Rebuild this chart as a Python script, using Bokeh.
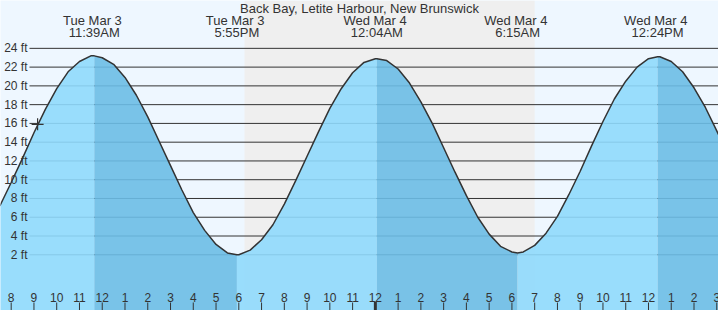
import numpy as np
from bokeh.plotting import figure
from bokeh.models import Range1d, BoxAnnotation, ColumnDataSource
from bokeh.core.properties import value
from bokeh.embed import file_html
from bokeh.resources import INLINE

# ---------------- data (hours after Tue Mar 3, 00:00) ----------------
title_text = "Back Bay, Letite Harbour, New Brunswick"

tide_hours = [7.5, 8.0, 8.5, 9.0, 9.5, 10.0, 10.5, 11.0, 11.5, 11.65,
              12.0, 12.5, 13.0, 13.5, 14.0, 14.5, 15.0, 15.5, 16.0, 16.5, 17.0, 17.5, 17.917,
              18.0, 18.5, 19.0, 19.5, 20.0, 20.5, 21.0, 21.5, 22.0, 22.5, 23.0, 23.5, 24.0, 24.067,
              24.5, 25.0, 25.5, 26.0, 26.5, 27.0, 27.5, 28.0, 28.5, 29.0, 29.5, 30.0, 30.25,
              30.5, 31.0, 31.5, 32.0, 32.5, 33.0, 33.5, 34.0, 34.5, 35.0, 35.5, 36.0, 36.4,
              36.5, 37.0, 37.5, 38.0, 38.5, 39.0, 39.5]
tide_ft = [7.2, 9.7, 12.3, 15.0, 17.5, 19.7, 21.5, 22.6, 23.2, 23.2,
           23.0, 22.3, 20.9, 19.0, 16.7, 14.1, 11.5, 8.9, 6.5, 4.6, 3.1, 2.2, 2.0,
           2.0, 2.5, 3.6, 5.2, 7.4, 9.9, 12.5, 15.1, 17.6, 19.7, 21.4, 22.5, 22.9, 22.9,
           22.7, 21.8, 20.3, 18.3, 16.0, 13.4, 10.8, 8.3, 6.0, 4.2, 2.9, 2.3, 2.2,
           2.3, 3.0, 4.3, 6.1, 8.4, 10.9, 13.6, 16.2, 18.6, 20.5, 22.0, 22.9, 23.1,
           23.1, 22.6, 21.5, 19.8, 17.7, 15.2, 12.6]

extreme_hours = [11.65, 17.917, 24.067, 30.25, 36.4]
extreme_kind = ["high", "low", "high", "low", "high"]
extreme_day = ["Tue Mar  3", "Tue Mar  3", "Wed Mar  4", "Wed Mar  4", "Wed Mar  4"]
extreme_time = ["11:39AM", "5:55PM", "12:04AM", "6:15AM", "12:24PM"]

sunset_hour = 18.25
sunrise_hour = 31.0

now_hour = 9.16
now_ft = 15.9

y_ticks = [2, 4, 6, 8, 10, 12, 14, 16, 18, 20, 22, 24]
y_tick_labels = ["2 ft", "4 ft", "6 ft", "8 ft", "10 ft", "12 ft", "14 ft", "16 ft",
                 "18 ft", "20 ft", "22 ft", "24 ft"]

hour_ticks = list(range(8, 40))
hour_tick_labels = ["8", "9", "10", "11", "12", "1", "2", "3", "4", "5", "6", "7", "8", "9",
                    "10", "11", "12", "1", "2", "3", "4", "5", "6", "7", "8", "9", "10",
                    "11", "12", "1", "2", "3"]
midnight_hour = 24

# ---------------- layout ----------------
W, H = 718, 310
x0, x1 = 7.530, 39.076
y0, y1 = -3.94, 29.10
PXH = W / (x1 - x0)
PXF = H / (y1 - y0)

def ypx(py):  # pixel from top -> data
    return y1 - py / PXF

def xpx(px):
    return x0 + px / PXH

FONT = value("Liberation Sans")
TXT = "#333333"

p = figure(width=W, height=H, x_range=Range1d(x0, x1), y_range=Range1d(y0, y1),
           output_backend="svg", toolbar_location=None,
           x_axis_type=None, y_axis_type=None, min_border=0,
           background_fill_color="#eef7ff", border_fill_color="#eef7ff",
           outline_line_color=None)

# night shading
p.add_layout(BoxAnnotation(left=sunset_hour, right=sunrise_hour, fill_color="#efefef",
                           fill_alpha=1.0, line_color=None, level="underlay"))

# horizontal grid lines
gx0 = xpx(29)
p.segment(x0=[gx0] * len(y_ticks), y0=y_ticks, x1=[x1] * len(y_ticks), y1=y_ticks,
          line_color="#333333", line_width=1)

# tide fills: rising light, falling dark
t = np.array(tide_hours)
h = np.array(tide_ft)
bounds = [t[0]] + extreme_hours + [t[-1]]
kinds = ["low"] + extreme_kind
for i in range(len(bounds) - 1):
    a, b = bounds[i], bounds[i + 1]
    m = (t >= a - 1e-9) & (t <= b + 1e-9)
    falling = kinds[i] == "high"
    col = "#6bbde6" if falling else "#8fd9fc"
    p.varea(x=t[m], y1=np.full(m.sum(), y0), y2=h[m], fill_color=col, fill_alpha=0.9)

p.line(t, h, line_color="#333333", line_width=1.5)

# current-time cross
p.scatter([now_hour], [now_ft], marker="cross", size=12, line_color="#333333", line_width=1.2)

# y labels
p.text(x=[xpx(27)] * len(y_ticks), y=y_ticks, text=y_tick_labels, text_align="right",
       text_baseline="middle", text_font=FONT, text_font_size="12px", text_color=TXT)

# bottom hour ticks
p.text(x=hour_ticks, y=[ypx(297)] * len(hour_ticks), text=hour_tick_labels,
       text_align="center", text_baseline="middle", text_font=FONT,
       text_font_size="12px", text_color=TXT)
reg = [hh for hh in hour_ticks if hh != midnight_hour]
p.segment(x0=reg, y0=[ypx(302)] * len(reg), x1=reg, y1=[y0] * len(reg),
          line_color="#333333", line_width=1)
p.segment(x0=[midnight_hour], y0=[ypx(301)], x1=[midnight_hour], y1=[y0],
          line_color="#333333", line_width=3)

# top texts
p.text(x=[(x0 + x1) / 2], y=[ypx(7.5)], text=[title_text], text_align="center",
       text_baseline="middle", text_font=FONT, text_font_size="13px", text_color=TXT)
p.text(x=extreme_hours, y=[ypx(20)] * len(extreme_hours), text=extreme_day,
       text_align="center", text_baseline="middle", text_font=FONT,
       text_font_size="13px", text_color=TXT)
p.text(x=extreme_hours, y=[ypx(32)] * len(extreme_hours), text=extreme_time,
       text_align="center", text_baseline="middle", text_font=FONT,
       text_font_size="13px", text_color=TXT)

open("out.html", "w").write(file_html(p, INLINE))
